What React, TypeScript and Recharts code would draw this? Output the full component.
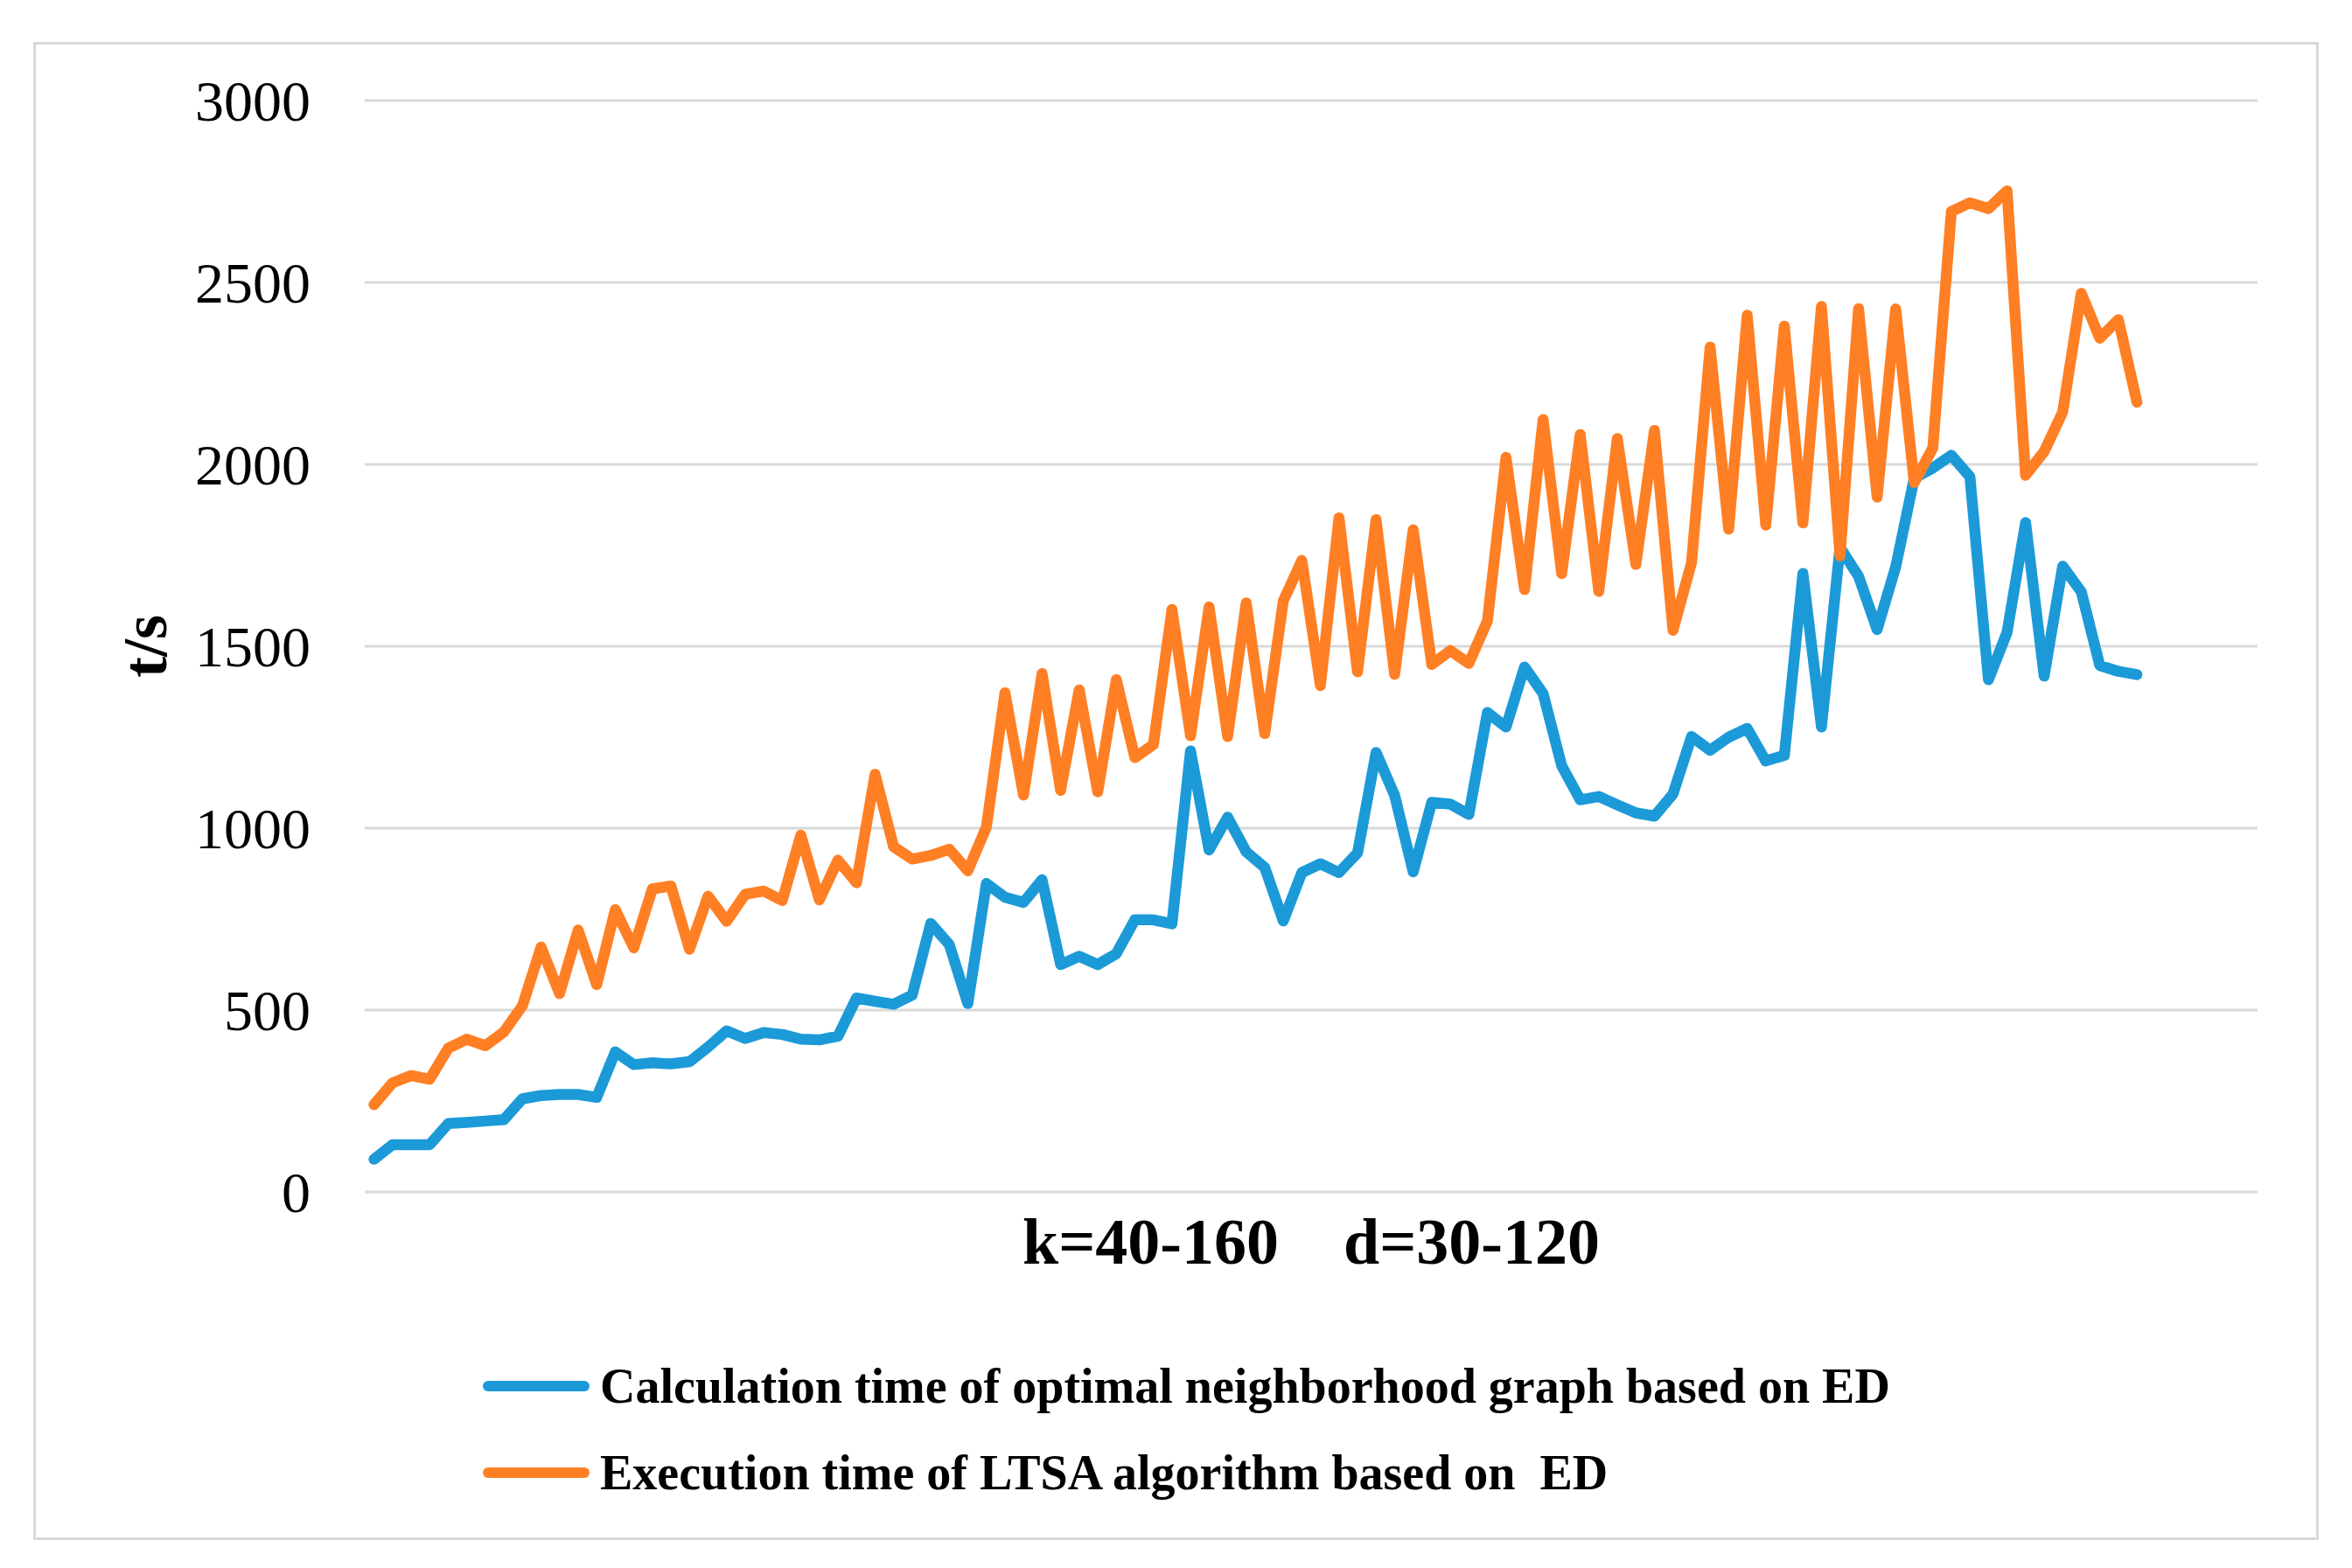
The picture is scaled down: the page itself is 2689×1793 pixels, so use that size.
import { LineChart, Line, XAxis, YAxis, CartesianGrid } from 'recharts';

// values, one per parameter combination
const graphTime = [
    90, 130, 130, 130, 188, 191, 195, 199, 256, 265, 268, 268, 260, 385, 350, 355, 352, 358, 398, 443,
    422, 438, 433, 420, 418, 428, 533, 524, 516, 541, 738, 680, 518, 848, 810, 796, 858, 625, 648, 625,
    655, 748, 748, 737, 1212, 940, 1030, 935, 892, 745, 878, 902, 878, 932, 1208, 1090, 880, 1071, 1066, 1038,
    1318, 1278, 1443, 1370, 1172, 1078, 1087, 1064, 1042, 1033, 1094, 1252, 1214, 1250, 1274, 1185, 1200, 1700, 1278, 1772,
    1692, 1546, 1718, 1962, 1990, 2025, 1966, 1408, 1538, 1840, 1418, 1720, 1650, 1447, 1431, 1422,
];

const ltsaTime = [
    240, 300, 320, 310, 395, 420, 402, 440, 512, 673, 545, 720, 570, 776, 671, 833, 841, 667, 813, 744,
    818, 827, 801, 981, 803, 912, 850, 1148, 949, 915, 925, 942, 883, 1003, 1372, 1091, 1425, 1104, 1380, 1100,
    1408, 1194, 1230, 1601, 1254, 1608, 1252, 1619, 1260, 1625, 1736, 1392, 1853, 1430, 1848, 1423, 1820, 1450, 1488, 1453,
    1570, 2019, 1656, 2123, 1700, 2082, 1651, 2071, 1725, 2093, 1544, 1730, 2322, 1822, 2410, 1833, 2380, 1839, 2434, 1749,
    2428, 1910, 2427, 1950, 2045, 2695, 2719, 2703, 2752, 1970, 2035, 2144, 2470, 2347, 2398, 2171,
];

const yTicks = [0, 500, 1000, 1500, 2000, 2500, 3000];

const SERIES = [
    { key: 'graph', name: 'Calculation time of optimal neighborhood graph based on ED', color: '#1C9AD8' },
    { key: 'ltsa', name: 'Execution time of LTSA algorithm based on  ED', color: '#FF7F24' },
];

const data = graphTime.map((g, i) => ({ idx: i, graph: g, ltsa: ltsaTime[i] }));

const FONT = '"Liberation Serif", "Times New Roman", serif';

export default function App() {
    return (
        <div style={{ position: 'absolute', left: 0, top: 0, width: 2689, height: 1793, background: '#fff' }}>
            <div style={{
                position: 'absolute', left: 38, top: 48, width: 2613, height: 1713,
                border: '3px solid #d9d9d9', boxSizing: 'border-box',
            }} />
            <div style={{ position: 'absolute', left: 0, top: 0 }}>
                <LineChart
                    width={2689}
                    height={1793}
                    data={data}
                    margin={{ top: 115, right: 108, bottom: 0, left: 0 }}
                >
                    <CartesianGrid horizontal={true} vertical={false} stroke="#d9d9d9" strokeWidth={3} />
                    <XAxis
                        dataKey="idx"
                        type="number"
                        domain={[-0.5, 101.5]}
                        height={430}
                        tick={false}
                        tickLine={false}
                        axisLine={false}
                        label={(props: any) => {
                            const vb = props.viewBox;
                            return (
                                <text
                                    x={vb.x + vb.width / 2}
                                    y={vb.y + 57}
                                    textAnchor="middle"
                                    dominantBaseline="central"
                                    style={{ fontFamily: FONT, fontWeight: 'bold', fontSize: 74, whiteSpace: 'pre' }}
                                    fill="#000"
                                >
                                    {'k=40-160    d=30-120'}
                                </text>
                            );
                        }}
                    />
                    <YAxis
                        type="number"
                        domain={[0, 3000]}
                        ticks={yTicks}
                        width={417}
                        tickSize={0}
                        tickMargin={62}
                        axisLine={false}
                        tickLine={false}
                        tick={{ fontFamily: FONT, fontSize: 66, fill: '#000' }}
                        label={(props: any) => {
                            const vb = props.viewBox;
                            const cy = vb.y + vb.height / 2;
                            return (
                                <text
                                    x={166}
                                    y={cy}
                                    textAnchor="middle"
                                    dominantBaseline="central"
                                    transform={`rotate(-90, 166, ${cy})`}
                                    style={{ fontFamily: FONT, fontWeight: 'bold', fontSize: 72 }}
                                    fill="#000"
                                >
                                    t/s
                                </text>
                            );
                        }}
                    />
                    {SERIES.map(s => (
                        <Line
                            key={s.key}
                            dataKey={s.key}
                            name={s.name}
                            stroke={s.color}
                            strokeWidth={12.5}
                            strokeLinejoin="round"
                            strokeLinecap="round"
                            dot={false}
                            activeDot={false}
                            isAnimationActive={false}
                        />
                    ))}
                </LineChart>
            </div>
            {/* legend drawn as plain html so it does not eat into the plot height */}
            <div style={{ position: 'absolute', left: 552, top: 1556, display: 'flex', flexDirection: 'column', gap: 42 }}>
                {SERIES.map(s => (
                    <div key={s.key} style={{ display: 'flex', alignItems: 'center', height: 57 }}>
                        <div style={{ width: 122, height: 12, borderRadius: 6, background: s.color, marginRight: 12 }} />
                        <span style={{ fontFamily: FONT, fontWeight: 'bold', fontSize: 56, color: '#000', whiteSpace: 'pre', lineHeight: 1 }}>
                            {s.name}
                        </span>
                    </div>
                ))}
            </div>
        </div>
    );
}
